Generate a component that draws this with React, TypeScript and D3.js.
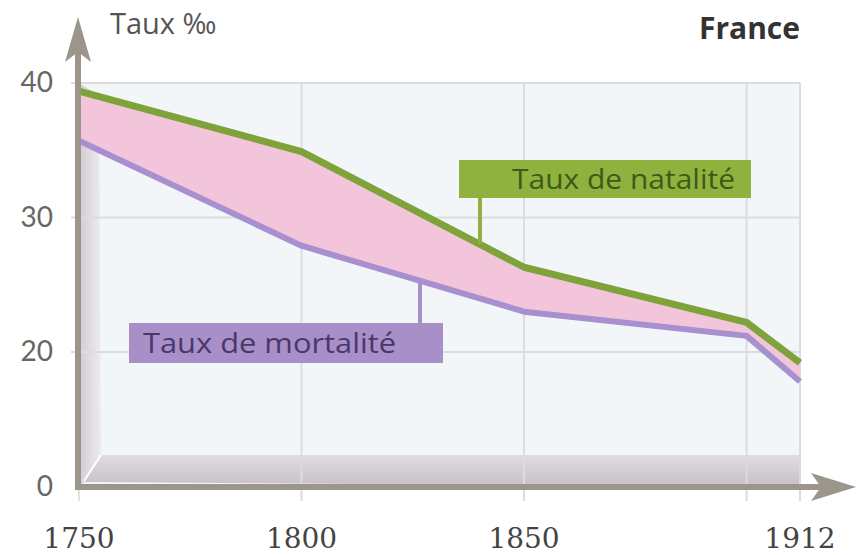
import React from "react";
import * as d3 from "d3";

const years = [1750, 1800, 1850, 1900, 1912];
const natalite = [39.4, 34.9, 26.3, 22.2, 19.2];
const mortalite = [35.7, 27.9, 23.0, 21.2, 17.8];
const yTicks = [0, 20, 30, 40];
const xTickLabels = [1750, 1800, 1850, 1912];
const xGrid = [1800, 1850, 1900, 1912];

const W = 859;
const H = 555;

export default function App() {
  const x = d3.scaleLinear().domain([1750, 1912]).range([79, 800]);
  // broken axis: 0 sits at bottom, values above ~12 are linear
  const y = d3.scaleLinear().domain([0, 12, 40]).range([487, 459.6, 83]);

  const pts = years.map((yr, i) => ({ yr, n: natalite[i], m: mortalite[i] }));
  const area = d3
    .area<any>()
    .x((d) => x(d.yr))
    .y0((d) => y(d.m))
    .y1((d) => y(d.n));
  const lineN = d3
    .line<any>()
    .x((d) => x(d.yr))
    .y((d) => y(d.n));
  const lineM = d3
    .line<any>()
    .x((d) => x(d.yr))
    .y((d) => y(d.m));

  const x0 = x(1750);
  const x1 = x(1912);
  const yTop = y(40);
  const yBot = y(0);
  const font = "'Open Sans', sans-serif";

  const natLeaderX = 480;
  const natLeaderY = y(34.9 + ((26.3 - 34.9) * (natLeaderX - x(1800))) / (x(1850) - x(1800)));
  const morLeaderX = 420;
  const morLeaderY = y(27.9 + ((23.0 - 27.9) * (morLeaderX - x(1800))) / (x(1850) - x(1800)));

  return (
    <svg
      width={W}
      height={H}
      style={{ position: "absolute", left: 0, top: 0, background: "#fff" }}
    >
      <defs>
        <linearGradient id="floor" x1="0" y1="0" x2="0" y2="1">
          <stop offset="0" stopColor="#e0dce2" />
          <stop offset="1" stopColor="#c6c0c6" />
        </linearGradient>
        <linearGradient id="wall" x1="0" y1="0" x2="1" y2="0">
          <stop offset="0" stopColor="#d2ccd2" />
          <stop offset="1" stopColor="#eeebf0" />
        </linearGradient>
      </defs>
      <rect x={x0} y={yTop} width={x1 - x0} height={yBot - yTop} fill="#f3f6f9" />
      <polygon
        points={`${x0},${yTop} ${x0 + 20},${yTop + 12} ${x0 + 22},${yBot - 32} ${x0 + 5},${yBot - 5} ${x0},${yBot}`}
        fill="url(#wall)"
      />
      <polygon
        points={`${x0 + 5},${yBot - 5} ${x0 + 22},${yBot - 32} ${x1},${yBot - 32} ${x1},${yBot}`}
        fill="url(#floor)"
      />
      <line x1={x0 + 5} y1={yBot - 6} x2={x0 + 22} y2={yBot - 32} stroke="#fff" strokeWidth={2} />
      {[20, 30, 40].map((v) => (
        <line key={v} x1={x0 - 8} x2={x1} y1={y(v)} y2={y(v)} stroke="#d9dde0" strokeWidth={2} />
      ))}
      {xGrid.map((v) => (
        <line key={v} x1={x(v)} x2={x(v)} y1={yTop} y2={yBot + 14} stroke="#d9dde0" strokeWidth={2} />
      ))}
      <line x1={x0} x2={x0} y1={yBot} y2={yBot + 14} stroke="#e4e4dc" strokeWidth={2} />
      <path d={area(pts) || ""} fill="#f3c5da" />
      <path d={lineM(pts) || ""} fill="none" stroke="#a88fcf" strokeWidth={6} strokeLinejoin="round" />
      <path d={lineN(pts) || ""} fill="none" stroke="#7ea33a" strokeWidth={7} strokeLinejoin="round" />
      <line x1={x0 - 1} x2={x0 - 1} y1={yBot + 3} y2={40} stroke="#9c968a" strokeWidth={6} />
      <polygon points={`${x0 - 1},17 ${x0 - 14},62 ${x0 - 1},52 ${x0 + 12},62`} fill="#9c968a" />
      <line x1={x0 - 4} x2={830} y1={yBot} y2={yBot} stroke="#9c968a" strokeWidth={6} />
      <polygon points={`856,${yBot} 811,${yBot - 14} 821,${yBot} 811,${yBot + 14}`} fill="#9c968a" />
      {yTicks.map((v) => (
        <text key={v} x={53} y={y(v) + 9} textAnchor="end" fontFamily="Lato, sans-serif" fontSize={28} fill="#666">
          {v}
        </text>
      ))}
      {xTickLabels.map((v) => (
        <text key={v} x={x(v)} y={548} textAnchor="middle" fontFamily="'DejaVu Serif', serif" fontSize={28} fill="#444">
          {v}
        </text>
      ))}
      <text x={110} y={34} fontFamily={font} fontSize={29} fill="#555">
        Taux ‰
      </text>
      <text x={800} y={39} textAnchor="end" fontFamily={font} fontWeight="bold" fontSize={30} fill="#333">
        France
      </text>
      <line x1={natLeaderX} x2={natLeaderX} y1={198} y2={natLeaderY} stroke="#8fb23e" strokeWidth={4} />
      <rect x={459} y={160} width={292} height={38} fill="#8fb23e" />
      <text x={512} y={189} textLength={223} lengthAdjust="spacingAndGlyphs" fontFamily={font} fontSize={28} fill="#3e5a17">
        Taux de natalité
      </text>
      <line x1={morLeaderX} x2={morLeaderX} y1={morLeaderY} y2={323} stroke="#a88fc8" strokeWidth={4} />
      <rect x={129} y={323} width={314} height={40} fill="#a88fc8" />
      <text x={143} y={353} textLength={253} lengthAdjust="spacingAndGlyphs" fontFamily={font} fontSize={28} fill="#4a3868">
        Taux de mortalité
      </text>
    </svg>
  );
}
